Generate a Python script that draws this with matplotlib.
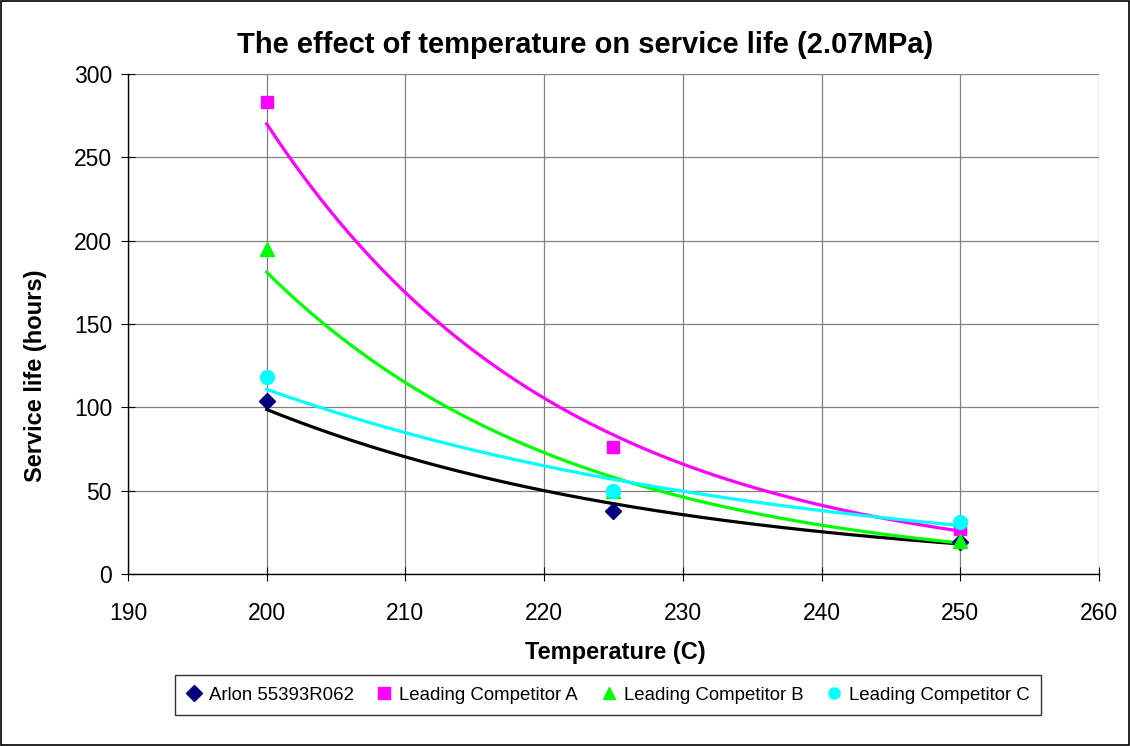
import numpy as np
import matplotlib
matplotlib.use("Agg")
import matplotlib.pyplot as plt
from matplotlib.patches import Rectangle

plt.rcParams['font.family'] = ['Liberation Sans', 'DejaVu Sans']

temps = [200, 225, 250]
arlon = [104, 38, 19]
comp_a = [283, 76, 27]
comp_b = [195, 50, 20]
comp_c = [118, 50, 31]

series = [
    ("Arlon 55393R062", arlon, "#000080", "D", "#000000", 8),
    ("Leading Competitor A", comp_a, "#FF00FF", "s", "#FF00FF", 9),
    ("Leading Competitor B", comp_b, "#00FF00", "^", "#00FF00", 10),
    ("Leading Competitor C", comp_c, "#00FFFF", "o", "#00FFFF", 10),
]

W, H = 1130, 746
fig = plt.figure(figsize=(W / 100, H / 100), dpi=100)
ax = fig.add_axes([128 / W, 1 - 574 / H, (1099 - 128) / W, (574 - 74) / H])

x = np.array(temps, dtype=float)
xs = np.linspace(200, 250, 200)
handles = []
for name, vals, mc, mk, lc, ms in series:
    y = np.array(vals, dtype=float)
    b, a = np.polyfit(x, np.log(y), 1)
    ax.plot(xs, np.exp(a + b * xs), color=lc, lw=2.3, zorder=3)
for name, vals, mc, mk, lc, ms in series:
    h = ax.plot(temps, vals, linestyle='none', marker=mk, color=mc, markersize=ms,
                markeredgecolor=mc, zorder=4, label=name)[0]
    handles.append(h)

ax.set_xlim(190, 260)
ax.set_ylim(0, 300)
ax.set_xticks(np.arange(190, 261, 10))
ax.set_yticks(np.arange(0, 301, 50))
ax.grid(True, color='#808080', lw=0.9)
ax.set_axisbelow(True)
for s in ['top', 'right']:
    ax.spines[s].set_visible(False)
for s in ['left', 'bottom']:
    ax.spines[s].set_color('black')
    ax.spines[s].set_linewidth(1.0)
ax.tick_params(axis='both', direction='inout', length=10, color='black', labelsize=16.5)
ax.tick_params(axis='y', pad=6.5)
ax.tick_params(axis='x', pad=15)

fig.text(585 / W, 1 - 45 / H, "The effect of temperature on service life (2.07MPa)",
         ha='center', va='center', fontsize=21, fontweight='bold')
fig.text(615 / W, 1 - 652 / H, "Temperature (C)", ha='center', va='center',
         fontsize=17, fontweight='bold')
fig.text(36 / W, 1 - 376 / H, "Service life (hours)", ha='center', va='center',
         fontsize=17, fontweight='bold', rotation=90)

leg = fig.legend(handles=handles, loc='center', bbox_to_anchor=(608 / W, 1 - 695 / H),
                 ncol=4, frameon=True, fancybox=False, fontsize=13.4, handlelength=0.8,
                 handletextpad=0.4, columnspacing=1.25, borderpad=0.6)
leg.get_frame().set_edgecolor('black')
leg.get_frame().set_linewidth(1.0)
for h in leg.legend_handles:
    h.set_markersize(8)

fig.patches.append(Rectangle((1 / W, 1 / H), 1 - 2 / W, 1 - 2 / H, transform=fig.transFigure,
                             fill=False, edgecolor='black', lw=1.2))

fig.savefig("out.png", dpi=100)
